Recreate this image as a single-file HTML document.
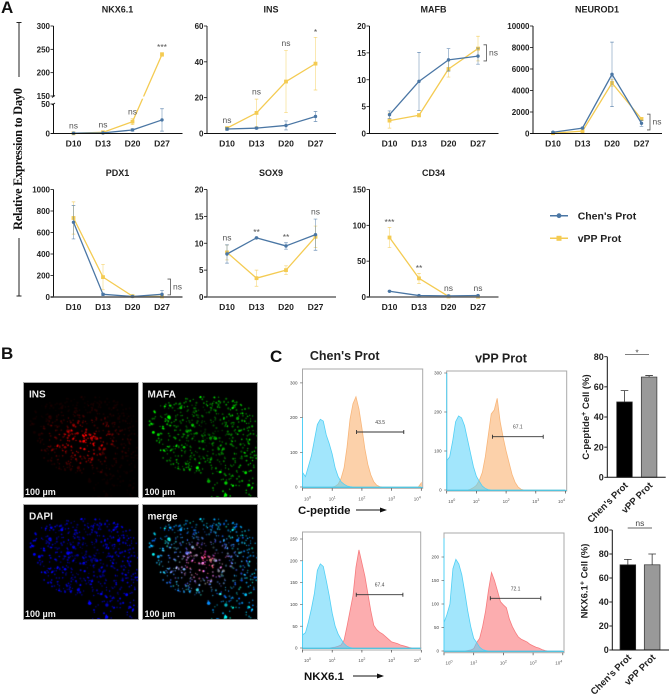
<!DOCTYPE html>
<html lang="en">
<head>
<meta charset="utf-8">
<title>Expression, immunostaining and flow cytometry figure</title>
<style>
html,body{margin:0;padding:0;background:#fff;}
#figure{position:relative;width:669px;height:694px;overflow:hidden;background:#fff;font-family:"Liberation Sans",sans-serif;filter:blur(0.3px);}
#figure canvas{position:absolute;background:#000;outline:1px solid #a8a8a8;outline-offset:-1px;}
#figure svg{position:absolute;left:0;top:0;}
</style>
</head>
<body>
<div id="figure">
<canvas id="micro-ins" width="116" height="116" style="left:23px;top:382px"></canvas>
<canvas id="micro-mafa" width="116" height="116" style="left:142px;top:382px"></canvas>
<canvas id="micro-dapi" width="116" height="116" style="left:23px;top:504px"></canvas>
<canvas id="micro-merge" width="116" height="116" style="left:142px;top:504px"></canvas>
<svg id="art" width="669" height="694" viewBox="0 0 669 694" xmlns="http://www.w3.org/2000/svg">
  <text x="1" y="13" font-size="17" font-weight="bold" fill="#111">A</text>
  <text x="1" y="359" font-size="17" font-weight="bold" fill="#111">B</text>
  <text x="270" y="362" font-size="17" font-weight="bold" fill="#111">C</text>

  <text x="0" y="0" transform="translate(22,159) rotate(-90)" text-anchor="middle" font-family="'Liberation Serif',serif" font-weight="bold" font-size="12.5" textLength="142" fill="#111">Relative Expression to Day0</text>
  <path d="M16.5 22.5H21.5M19 22.5V77M19 238V296M16.5 296H21.5" stroke="#222" stroke-width="1" fill="none"/>

  <g>
    <line x1="550" x2="568" y1="215.7" y2="215.7" stroke="#4a76a4" stroke-width="1.5"/>
    <circle cx="559" cy="215.7" r="2.4" fill="#4a76a4"/>
    <text x="577.7" y="219.5" font-size="10.5" font-weight="bold" fill="#222">Chen's Prot</text>
    <line x1="550" x2="568" y1="238.3" y2="238.3" stroke="#f4cb52" stroke-width="1.5"/>
    <rect x="556.5" y="235.8" width="5" height="5" fill="#f4cb52"/>
    <text x="577.7" y="242" font-size="10.5" font-weight="bold" fill="#222">vPP Prot</text>
  </g>

  <text x="29" y="397.5" font-size="10" font-weight="bold" fill="#eee">INS</text>
  <text x="147.5" y="397.5" font-size="10" font-weight="bold" fill="#eee">MAFA</text>
  <text x="29" y="519.5" font-size="10" font-weight="bold" fill="#eee">DAPI</text>
  <text x="147.5" y="519.5" font-size="10" font-weight="bold" fill="#eee">merge</text>
  <text x="25" y="495" font-size="9" font-weight="bold" fill="#eee">100 µm</text>
  <text x="144.5" y="495" font-size="9" font-weight="bold" fill="#eee">100 µm</text>
  <text x="25" y="617" font-size="9" font-weight="bold" fill="#eee">100 µm</text>
  <text x="144.5" y="617" font-size="9" font-weight="bold" fill="#eee">100 µm</text>

  <text x="344.7" y="360" text-anchor="middle" font-size="12.5" font-weight="bold" fill="#222">Chen's Prot</text>
  <text x="501" y="362.5" text-anchor="middle" font-size="12.5" font-weight="bold" fill="#222">vPP Prot</text>

  <text x="298" y="514" font-size="11.4" font-weight="bold" fill="#111">C-peptide</text>
  <path d="M356 510H381" stroke="#111" stroke-width="1"/>
  <path d="M380 507.5L387 510L380 512.5Z" fill="#111"/>
  <text x="304" y="680" font-size="11.4" font-weight="bold" fill="#111">NKX6.1</text>
  <path d="M353 676H378" stroke="#111" stroke-width="1"/>
  <path d="M377 673.5L384 676L377 678.5Z" fill="#111"/>

  <text x="0" y="0" transform="translate(589,417) rotate(-90)" text-anchor="middle" font-size="9.5" font-weight="bold" fill="#222">C-peptide<tspan dy="-3" font-size="7">+</tspan><tspan dy="3"> Cell (%)</tspan></text>
  <text x="0" y="0" transform="translate(587.5,581) rotate(-90)" text-anchor="middle" font-size="9.5" font-weight="bold" fill="#222">NKX6.1<tspan dy="-3" font-size="7">+</tspan><tspan dy="3"> Cell (%)</tspan></text>
</svg>
</div>
<script>
/* ---------- line chart data ---------- */
const timepoints = ['D10', 'D13', 'D20', 'D27'];

const nkxChen = [0.5, 1, 6, 23];
const nkxChenErr = [0.3, 0.5, 2, 19];
const nkxVpp = [0.3, 2, 20, 239];
const nkxVppErr = [0.2, 0.5, 5, 4];
const nkxTicks = [0, 50, 150, 200, 250, 300];
const nkxSig = ['ns', 'ns', 'ns', '***'];

const insChen = [2.5, 3, 4.5, 9.5];
const insChenErr = [0.8, 0.5, 2.5, 2.8];
const insVpp = [3, 11.5, 29, 39];
const insVppErr = [0.3, 7.7, 17.3, 14.7];
const insTicks = [0, 20, 40, 60];
const insSig = ['ns', 'ns', 'ns', '*'];

const mafbChen = [3.5, 9.7, 13.7, 14.4];
const mafbChenErr = [0.7, 5.4, 2.1, 1.5];
const mafbVpp = [2.4, 3.4, 12, 15.8];
const mafbVppErr = [1.4, 0.3, 1.5, 2.3];
const mafbTicks = [0, 5, 10, 15, 20];
const mafbBracket = [13.5, 16.5];

const neurodChen = [120, 500, 5500, 950];
const neurodChenErr = [50, 50, 3000, 280];
const neurodVpp = [30, 220, 4700, 1350];
const neurodVppErr = [20, 30, 300, 150];
const neurodTicks = [0, 2000, 4000, 6000, 8000, 10000];
const neurodBracket = [330, 1800];

const pdxChen = [695, 25, 5, 25];
const pdxChenErr = [155, 10, 5, 35];
const pdxVpp = [735, 185, 8, 5];
const pdxVppErr = [150, 118, 5, 3];
const pdxTicks = [0, 200, 400, 600, 800, 1000];
const pdxBracket = [20, 167];

const soxChen = [8, 11, 9.5, 11.6];
const soxChenErr = [1.7, 0.1, 0.6, 2.9];
const soxVpp = [8.3, 3.5, 5, 11.2];
const soxVppErr = [1.4, 1.5, 0.8, 2];
const soxTicks = [0, 5, 10, 15, 20];
const soxSig = ['ns', '**', '**', 'ns'];

const cdChen = [8, 2, 1.5, 2];
const cdChenErr = [0.5, 0.5, 0.3, 0.4];
const cdVpp = [83, 26, 0.8, 0.5];
const cdVppErr = [14, 7, 0.5, 0.3];
const cdTicks = [0, 50, 100, 150];
const cdSig = ['***', '**', 'ns', 'ns'];

/* ---------- flow cytometry data (counts per tenth of a decade) ---------- */
const histDecades = [0,0.1,0.2,0.3,0.4,0.5,0.6,0.7,0.8,0.9,1,1.1,1.2,1.3,1.4,1.5,1.6,1.7,1.8,1.9,2,2.1,2.2,2.3,2.4,2.5,2.6,2.7,2.8,2.9,3,3.1,3.2,3.3,3.4,3.5,3.6,3.7,3.8,3.9,4];
const cpepChenControl = [42,30,60,90,135,180,195,190,150,125,95,55,30,15,8,3,1,0,0,0,0,0,0,0,0,0,0,0,0,0,0,0,0,0,0,0,0,0,0,0,0];
const cpepChenStain = [0,0,0,0,0,0,0,0,0,0,0,2,8,25,55,115,195,240,260,225,170,110,65,35,15,5,1,0,0,0,0,0,0,0,0,0,0,0,0,0,12];
const cpepVppControl = [75,85,125,175,190,185,165,130,95,60,35,22,10,4,1,0,0,0,0,0,0,0,0,0,0,0,0,0,0,0,0,0,0,0,0,0,0,0,0,0,0];
const cpepVppStain = [0,0,0,0,0,0,0,0,2,6,12,25,45,85,140,195,205,235,175,135,100,70,40,20,8,2,0,0,0,0,0,0,0,0,0,0,0,0,0,0,0];
const nkxChenControl = [30,35,60,90,125,178,193,187,155,120,80,50,32,20,10,4,1,0,0,0,0,0,0,0,0,0,0,0,0,0,0,0,0,0,0,0,0,0,0,0,0];
const nkxChenStain = [0,0,0,0,0,0,0,0,0,0,1,2,4,7,18,50,85,120,185,225,195,165,125,85,52,42,36,32,26,20,14,12,10,7,5,3,1,0,0,0,0];
const nkxVppControl = [60,78,100,175,195,185,162,125,85,52,27,18,8,3,1,0,0,0,0,0,0,0,0,0,0,0,0,0,0,0,0,0,0,0,0,0,0,0,0,0,0];
const nkxVppStain = [0,0,0,0,0,0,0,0,1,2,5,18,27,52,85,130,167,150,128,105,98,92,68,52,40,30,25,22,19,14,11,8,6,3,1,0,0,0,0,0,0];
const cpepTicks300 = [0, 100, 200, 300];
const nkxTicks250 = [0, 50, 100, 150, 200, 250];
const nkxTicks200 = [0, 50, 100, 150, 200];
const decadeLabels = [0, 1, 2, 3, 4];
const gatePercents = ['43.5', '67.1', '67.4', '72.1'];
const controlSpikes = [200, 300, 200, 240];

/* ---------- bar chart data ---------- */
const barCategories = ["Chen's Prot", 'vPP Prot'];
const cpepBarValues = [50, 66.5];
const cpepBarErr = [7.5, 1];
const cpepBarTicks = [0, 20, 40, 60, 80];
const nkxBarValues = [71, 71];
const nkxBarErr = [4.5, 9];
const nkxBarTicks = [0, 20, 40, 60, 80, 100];

/* ---------- helpers ---------- */
const SVGNS = 'http://www.w3.org/2000/svg';
const art = document.getElementById('art');
const BLUE = '#4a76a4';
const YELLOW = '#f4cb52';

function make(tag, attrs, parent) {
  const node = document.createElementNS(SVGNS, tag);
  for (const key in attrs) node.setAttribute(key, attrs[key]);
  (parent || art).appendChild(node);
  return node;
}
function label(x, y, str, size, weight, anchor, fill, parent) {
  const node = make('text', {x: x, y: y, 'font-size': size, 'font-weight': weight, 'text-anchor': anchor, fill: fill}, parent);
  node.textContent = str;
  return node;
}
function linearY(maxValue, bottom, top) {
  return function (v) { return bottom - (v / maxValue) * (bottom - top); };
}
function brokenY(bottom, top) {
  return function (v) {
    if (v <= 50) return bottom - (v / 50) * 29.5;
    if (v < 150) return 104 - ((v - 50) / 100) * 8;
    return 96 - ((v - 150) / 150) * (96 - top);
  };
}

/* ---------- line panels ---------- */
const linePanels = [
  {title: 'NKX6.1', axisX: 53.5, top: 26, bottom: 133.5, max: 300, chen: nkxChen, chenErr: nkxChenErr, vpp: nkxVpp, vppErr: nkxVppErr, ticks: nkxTicks, sig: nkxSig, broken: true, yAxis: '#111', xAxis: '#111'},
  {title: 'INS', axisX: 207, top: 26, bottom: 133.5, max: 60, chen: insChen, chenErr: insChenErr, vpp: insVpp, vppErr: insVppErr, ticks: insTicks, sig: insSig, yAxis: '#666', xAxis: '#111'},
  {title: 'MAFB', axisX: 369.5, top: 26, bottom: 133.5, max: 20, chen: mafbChen, chenErr: mafbChenErr, vpp: mafbVpp, vppErr: mafbVppErr, ticks: mafbTicks, bracket: mafbBracket, yAxis: '#111', xAxis: '#111'},
  {title: 'NEUROD1', axisX: 533, top: 26, bottom: 133.5, max: 10000, chen: neurodChen, chenErr: neurodChenErr, vpp: neurodVpp, vppErr: neurodVppErr, ticks: neurodTicks, bracket: neurodBracket, yAxis: '#111', xAxis: '#111'},
  {title: 'PDX1', axisX: 53.5, top: 189.5, bottom: 297, max: 1000, chen: pdxChen, chenErr: pdxChenErr, vpp: pdxVpp, vppErr: pdxVppErr, ticks: pdxTicks, bracket: pdxBracket, yAxis: '#111', xAxis: '#555'},
  {title: 'SOX9', axisX: 207, top: 189.5, bottom: 297, max: 20, chen: soxChen, chenErr: soxChenErr, vpp: soxVpp, vppErr: soxVppErr, ticks: soxTicks, sig: soxSig, yAxis: '#666', xAxis: '#666'},
  {title: 'CD34', axisX: 369.5, top: 189.5, bottom: 297, max: 150, chen: cdChen, chenErr: cdChenErr, vpp: cdVpp, vppErr: cdVppErr, ticks: cdTicks, sig: cdSig, yAxis: '#111', xAxis: '#666'}
];

function drawSeries(group, xOf, yOf, values, errors, color, square) {
  values.forEach(function (v, i) {
    const cx = xOf(i);
    const yHi = yOf(v + errors[i]);
    const yLo = yOf(Math.max(v - errors[i], 0));
    const bar = make('path', {d: 'M' + cx + ' ' + yLo + 'V' + yHi, stroke: color, 'stroke-opacity': 0.45, 'stroke-width': 1, fill: 'none'}, group);
    
    
    const caps = make('path', {d: 'M' + (cx - 1.8) + ' ' + yLo + 'H' + (cx + 1.8) + 'M' + (cx - 1.8) + ' ' + yHi + 'H' + (cx + 1.8), stroke: color, 'stroke-opacity': 0.8, 'stroke-width': 0.7, fill: 'none'}, group);
    
    
  });
  const pts = values.map(function (v, i) { return xOf(i) + ',' + yOf(v); }).join(' ');
  const line = make('polyline', {points: pts, fill: 'none', stroke: color, 'stroke-width': 1.3, 'stroke-linejoin': 'round'}, group);
  
  
  values.forEach(function (v, i) {
    let mark;
    if (square) {
      mark = make('rect', {x: xOf(i) - 1.9, y: yOf(v) - 1.9, width: 3.8, height: 3.8, fill: color}, group);
    } else {
      mark = make('circle', {cx: xOf(i), cy: yOf(v), r: 1.7, fill: color}, group);
    }
    
    
  });
}

linePanels.forEach(function (p) {
  const group = make('g', {});
  
  
  const yOf = p.broken ? brokenY(p.bottom, p.top) : linearY(p.max, p.bottom, p.top);
  const xOf = function (i) { return p.axisX + 20 + 29.5 * i; };

  const title = label(p.axisX + 64, p.top - 13.5, p.title, 9, 'bold', 'middle', '#222', group);
  
  

  drawSeries(group, xOf, yOf, p.vpp, p.vppErr, YELLOW, true);
  drawSeries(group, xOf, yOf, p.chen, p.chenErr, BLUE, false);

  if (p.broken) {
    const gap = make('rect', {x: p.axisX + 2, y: 96.5, width: 120, height: 2.2, fill: '#fff'}, group);
    
    
    const axisPath = make('path', {d: 'M' + p.axisX + ' ' + p.top + 'V96M' + p.axisX + ' 104V' + p.bottom, stroke: p.yAxis, 'stroke-width': 1, fill: 'none'}, group);
    
    
    const slashes = make('path', {d: 'M' + (p.axisX - 1.5) + ' 97.5L' + (p.axisX + 1.5) + ' 95.5M' + (p.axisX - 1.5) + ' 105L' + (p.axisX + 1.5) + ' 103', stroke: '#111', 'stroke-width': 0.8, fill: 'none'}, group);
    
    
  } else {
    const axisLine = make('line', {x1: p.axisX, x2: p.axisX, y1: p.top, y2: p.bottom, stroke: p.yAxis, 'stroke-width': p.yAxis === '#111' ? 1 : 1.4}, group);
    
    
  }
  const xAxis = make('line', {x1: p.axisX - 3, x2: p.axisX + 129, y1: p.bottom, y2: p.bottom, stroke: p.xAxis, 'stroke-width': p.xAxis === '#111' ? 1 : 1.4}, group);
  
  

  p.ticks.forEach(function (t) {
    const y = yOf(t);
    const tick = make('line', {x1: p.axisX - 3, x2: p.axisX, y1: y, y2: y, stroke: '#111', 'stroke-width': 0.8}, group);
    
    
    const text = label(p.axisX - 3.5, y + 3, String(t), 8, 'bold', 'end', '#222', group);
    
    
  });

  timepoints.forEach(function (name, i) {
    const text = label(xOf(i), p.bottom + 13, name, 8.6, 'bold', 'middle', '#222', group);
    
    
  });

  if (p.sig) {
    p.sig.forEach(function (s, i) {
      const topValue = Math.max(p.chen[i] + p.chenErr[i], p.vpp[i] + p.vppErr[i]);
      const cy = yOf(topValue) - 7;
      const isStar = s.charAt(0) === '*';
      const text = label(xOf(i), isStar ? cy + 4.5 : cy + 2.5, s, 8.5, 'normal', 'middle', '#555', group);
      
      
    });
  }
  if (p.bracket) {
    const bx = p.axisX + 117;
    const lo = yOf(p.bracket[0]);
    const hi = yOf(p.bracket[1]);
    const bracket = make('path', {d: 'M' + (bx - 3) + ' ' + hi + 'H' + bx + 'V' + lo + 'H' + (bx - 3), stroke: '#555', 'stroke-width': 0.8, fill: 'none'}, group);
    
    
    const text = label(bx + 7, (lo + hi) / 2 + 2.5, 'ns', 8.5, 'normal', 'middle', '#555', group);
    
    
  }
});

/* ---------- histograms ---------- */
const histPanels = [
  {left: 302.5, right: 422.7, top: 369, bottom: 488.3, base: 487, perCount: 0.347, ticks: cpepTicks300, control: cpepChenControl, stain: cpepChenStain, fill: 'rgba(250,185,125,0.65)', stroke: '#f8b67a', gate: [1.82, 3.41], gateY: 432, percent: gatePercents[0], spike: controlSpikes[0]},
  {left: 446.7, right: 566.7, top: 371, bottom: 491, base: 490, perCount: 0.39, ticks: cpepTicks300, control: cpepVppControl, stain: cpepVppStain, fill: 'rgba(250,185,125,0.65)', stroke: '#f8b67a', gate: [1.54, 3.25], gateY: 436.7, percent: gatePercents[1], spike: controlSpikes[1]},
  {left: 302.5, right: 420.7, top: 532, bottom: 650, base: 648, perCount: 0.436, ticks: nkxTicks250, control: nkxChenControl, stain: nkxChenStain, fill: 'rgba(250,105,110,0.55)', stroke: '#f77b7e', gate: [1.81, 3.38], gateY: 594.7, percent: gatePercents[2], spike: controlSpikes[2]},
  {left: 444, right: 564, top: 533, bottom: 652.7, base: 651, perCount: 0.47, ticks: nkxTicks200, control: nkxVppControl, stain: nkxVppStain, fill: 'rgba(250,105,110,0.55)', stroke: '#f77b7e', gate: [1.56, 3.26], gateY: 598.3, percent: gatePercents[3], spike: controlSpikes[3]}
];

function histPath(p, counts) {
  let d = 'M' + p.left + ' ' + p.base;
  histDecades.forEach(function (dec, i) {
    d += 'L' + (p.left + dec * 29.7) + ' ' + (p.base - counts[i] * p.perCount);
  });
  return d + 'L' + (p.left + 4 * 29.7) + ' ' + p.base + 'Z';
}

histPanels.forEach(function (p) {
  const group = make('g', {});
  
  

  const stain = make('path', {d: histPath(p, p.stain), fill: p.fill, stroke: p.stroke, 'stroke-width': 0.8}, group);
  
  
  const control = make('path', {d: histPath(p, p.control), fill: 'rgba(85,210,250,0.55)', stroke: '#52d0f5', 'stroke-width': 0.8}, group);
  
  

  const frame = make('rect', {x: p.left, y: p.top, width: p.right - p.left, height: p.bottom - p.top, fill: 'none', stroke: '#a8a8a8', 'stroke-width': 1}, group);
  
  
  const spike = make('line', {x1: p.left, x2: p.left, y1: p.base, y2: p.base - p.spike * p.perCount, stroke: '#52d0f5', 'stroke-width': 1}, group);
  
  
  const baseline = make('line', {x1: p.left, x2: p.right, y1: p.base + 0.5, y2: p.base + 0.5, stroke: '#52c4de', 'stroke-width': 0.9}, group);
  
  

  p.ticks.forEach(function (t) {
    const y = p.base - t * p.perCount;
    const tick = make('line', {x1: p.left - 2.5, x2: p.left, y1: y, y2: y, stroke: '#555', 'stroke-width': 0.6}, group);
    
    
    const text = label(p.left - 5, y + 1.6, String(t), 4.5, 'normal', 'end', '#444', group);
    
    
  });

  decadeLabels.forEach(function (dec) {
    const x = p.left + dec * 29.7;
    const tick = make('line', {x1: x, x2: x, y1: p.bottom, y2: p.bottom + 2.5, stroke: '#444', 'stroke-width': 0.7}, group);
    
    
    const text = label(x + (dec === 0 ? 5 : 0) - (dec === 4 ? 4 : 0), p.bottom + 12, '10', 4.5, 'normal', 'middle', '#555', group);
    
    
    const power = make('tspan', {dy: -2, 'font-size': 3.6}, text);
    power.textContent = String(dec);
  });

  const x1 = p.left + p.gate[0] * 29.7;
  const x2 = p.left + p.gate[1] * 29.7;
  const gate = make('path', {d: 'M' + x1 + ' ' + p.gateY + 'H' + x2 + 'M' + x1 + ' ' + (p.gateY - 2) + 'V' + (p.gateY + 2) + 'M' + x2 + ' ' + (p.gateY - 2) + 'V' + (p.gateY + 2), stroke: '#333', 'stroke-width': 0.9, fill: 'none'}, group);
  
  
  const pct = label((x1 + x2) / 2, p.gateY - 8, p.percent, 5, 'normal', 'middle', '#444', group);
  
  
});

/* ---------- bar charts ---------- */
const barPanels = [
  {axisX: 607.3, xEnd: 665.7, top: 356.7, bottom: 477.3, max: 80, values: cpepBarValues, errors: cpepBarErr, ticks: cpepBarTicks, bar0: 616.7, bar1: 641.3, width: 15.6, sig: '*', sigX: [625, 649], sigY: 354.3, labelY: 486},
  {axisX: 612.3, xEnd: 669, top: 530, bottom: 650, max: 100, values: nkxBarValues, errors: nkxBarErr, ticks: nkxBarTicks, bar0: 620, bar1: 644.3, width: 15.7, sig: 'ns', sigX: [627.7, 652], sigY: 528, labelY: 658}
];
const barFills = ['#000', '#999'];

barPanels.forEach(function (p) {
  const group = make('g', {});
  
  
  const yOf = linearY(p.max, p.bottom, p.top);
  const starts = [p.bar0, p.bar1];

  p.values.forEach(function (v, i) {
    const cx = starts[i] + p.width / 2;
    const err = make('path', {d: 'M' + cx + ' ' + yOf(v) + 'V' + yOf(v + p.errors[i]) + 'M' + (cx - 3.8) + ' ' + yOf(v + p.errors[i]) + 'H' + (cx + 3.8), stroke: '#333', 'stroke-width': 0.8, fill: 'none'}, group);
    
    
    const bar = make('rect', {x: starts[i], y: yOf(v), width: p.width, height: p.bottom - yOf(v), fill: barFills[i], stroke: '#333', 'stroke-width': 0.7}, group);
    
    
    const text = label(0, 0, barCategories[i], 9.5, 'bold', 'end', '#222', group);
    text.setAttribute('transform', 'translate(' + (cx + 4) + ',' + p.labelY + ') rotate(-45)');
    
    
  });

  const axis = make('path', {d: 'M' + p.axisX + ' ' + p.top + 'V' + p.bottom + 'H' + p.xEnd, stroke: '#111', 'stroke-width': 1, fill: 'none'}, group);
  
  
  p.ticks.forEach(function (t) {
    const y = yOf(t);
    const tick = make('line', {x1: p.axisX - 3, x2: p.axisX, y1: y, y2: y, stroke: '#111', 'stroke-width': 0.9}, group);
    
    
    const text = label(p.axisX - 3.5, y + 3.2, String(t), 9, 'bold', 'end', '#222', group);
    
    
  });

  const sigLine = make('line', {x1: p.sigX[0], x2: p.sigX[1], y1: p.sigY, y2: p.sigY, stroke: '#333', 'stroke-width': 0.7}, group);
  
  
  const sigText = label((p.sigX[0] + p.sigX[1]) / 2, p.sig === '*' ? p.sigY + 1 : p.sigY - 2, p.sig, 8.5, 'normal', 'middle', '#444', group);
  
  
});

/* ---------- micrograph texture (seeded, purely decorative) ---------- */
const tissueOutline = [[0.03,0.40],[0.12,0.22],[0.30,0.15],[0.55,0.12],[0.75,0.14],[0.92,0.22],[1.0,0.35],[1.0,1.0],[0.60,1.0],[0.55,0.80],[0.40,0.78],[0.22,0.72],[0.12,0.60],[0.10,0.46]];
function insideTissue(x, y) {
  let inside = false;
  for (let i = 0, j = tissueOutline.length - 1; i < tissueOutline.length; j = i++) {
    const a = tissueOutline[i];
    const b = tissueOutline[j];
    if ((a[1] > y) !== (b[1] > y) && x < (b[0] - a[0]) * (y - a[1]) / (b[1] - a[1]) + a[0]) inside = !inside;
  }
  return inside;
}
let seed = 20240611;
function nextRand() {
  seed = (seed * 1664525 + 1013904223) % 4294967296;
  return seed / 4294967296;
}
const cells = [];
while (cells.length < 640) {
  const x = nextRand();
  const y = nextRand();
  if (!insideTissue(x, y)) continue;
  const dist = Math.sqrt(Math.pow(x - 0.55, 2) + Math.pow(y - 0.48, 2));
  if (dist > 0.42 && nextRand() < 0.45) continue;
  const big = nextRand() < 0.03 || (y > 0.85 && x < 0.75 && nextRand() < 0.35);
  const radius = (big ? 1.3 : 0.6) + nextRand() * 0.5;
  const redLevel = Math.exp(-(Math.pow(x - 0.52, 2) / 0.07 + Math.pow(y - 0.52, 2) / 0.035)) * (0.25 + nextRand() * 0.7);
  const greenLevel = (0.22 + Math.min(dist, 0.6) * 1.0) * (0.5 + nextRand() * 0.7) * (big ? 1.8 : 1);
  const blueLevel = (0.42 + Math.min(dist, 0.6) * 0.9) * (0.55 + nextRand() * 0.6) * (big ? 1.5 : 1);
  cells.push({x: x, y: y, radius: radius, red: redLevel, green: greenLevel, blue: blueLevel});
}
function paint(id, colorOf) {
  const ctx = document.getElementById(id).getContext('2d');
  ctx.fillStyle = '#000';
  ctx.fillRect(0, 0, 116, 116);
  ctx.globalCompositeOperation = 'lighter';
  cells.forEach(function (c) {
    ctx.fillStyle = colorOf(c);
    ctx.beginPath();
    ctx.arc(c.x * 116, c.y * 116, c.radius, 0, Math.PI * 2);
    ctx.fill();
  });
}
function channel(v) { return Math.min(255, Math.round(v * 255)); }
paint('micro-ins', function (c) { return 'rgb(' + channel(c.red + 0.05) + ',0,0)'; });
paint('micro-mafa', function (c) { return 'rgb(0,' + channel(c.green) + ',0)'; });
paint('micro-dapi', function (c) { return 'rgb(0,0,' + channel(c.blue) + ')'; });
paint('micro-merge', function (c) { return 'rgb(' + channel(c.red) + ',' + channel(c.green * 0.85) + ',' + channel(c.blue) + ')'; });
</script>
</body>
</html>
